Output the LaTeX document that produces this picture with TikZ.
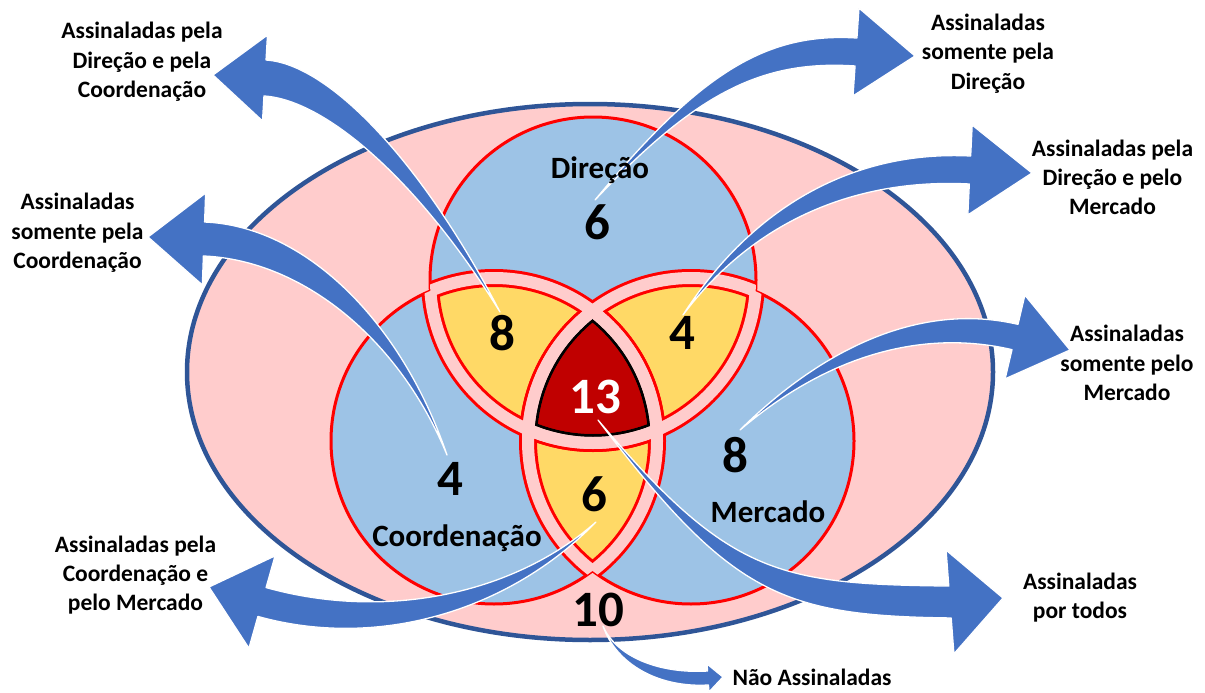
\documentclass[tikz,border=0pt]{standalone}
\usepackage{fontspec}
\setmainfont{Carlito}
\usepackage{tikz}
\usetikzlibrary{calc}
\definecolor{ellfill}{HTML}{FFCCCC}
\definecolor{ellline}{HTML}{2F5597}
\definecolor{vennfill}{HTML}{9DC3E6}
\definecolor{vennline}{HTML}{FF0000}
\definecolor{pairfill}{HTML}{FFD966}
\definecolor{allfill}{HTML}{C00000}
\definecolor{arrowblue}{HTML}{4472C4}
\tikzset{
  ell/.style={fill=ellfill, draw=ellline, line width=4.5pt},
  venn/.style={fill=vennfill, draw=vennline, line width=3pt},
  pair/.style={fill=pairfill},
  all/.style={fill=allfill},
  bandedge/.style={draw=vennline, line width=18pt},
  alledge/.style={draw=black, line width=18pt},
  band/.style={draw=ellfill, line width=12pt},
  num/.style={font=\fontsize{51}{60}\selectfont\bfseries, inner sep=0pt},
  setname/.style={font=\fontsize{31}{37}\selectfont\bfseries, inner sep=0pt},
  lab/.style={font=\fontsize{23.5}{29.3}\selectfont\bfseries, align=center, inner sep=0pt},
  blockarrow/.style={fill=arrowblue, draw=white, line width=1.3pt, line join=round},
}
\newcommand\bigarrow[7]{%
  \coordinate (ab) at (#4);
  \coordinate (ah) at (#5);
  \coordinate (abl) at ($(ab)!#6!90:(ah)$);
  \coordinate (abr) at ($(ab)!#6!-90:(ah)$);
  \coordinate (ahl) at ($(ab)!#7!90:(ah)$);
  \coordinate (ahr) at ($(ab)!#7!-90:(ah)$);
  \draw[blockarrow] (#1) .. controls ($(#2)+0.6*(abl)-0.6*(ab)$) and ($(#3)+(abl)-(ab)$) .. (abl)
    -- (ahl) -- (ah) -- (ahr) -- (abr)
    .. controls ($(#3)+(abr)-(ab)$) and ($(#2)+0.6*(abr)-0.6*(ab)$) .. cycle;
}

\begin{document}
\begin{tikzpicture}[x=1pt, y=-1pt]
  \useasboundingbox (0,0) rectangle (1205,693);
  \def\rad{163}
  \coordinate (D) at (593,280);
  \coordinate (C) at (494,441);
  \coordinate (M) at (691,441);
  \draw[ell] (590,372) ellipse [x radius=403, y radius=268];
  \foreach \s in {D,C,M}
    \draw[venn] (\s) circle [radius=\rad];
  \begin{scope}
    \clip (D) circle [radius=\rad];
    \fill[pair] (C) circle [radius=\rad];
    \fill[pair] (M) circle [radius=\rad];
  \end{scope}
  \begin{scope}
    \clip (C) circle [radius=\rad];
    \fill[pair] (M) circle [radius=\rad];
  \end{scope}
  \begin{scope}
    \clip (D) circle [radius=\rad];
    \clip (C) circle [radius=\rad];
    \fill[all] (M) circle [radius=\rad];
  \end{scope}
  \foreach \a/\b in {D/C,D/M,C/D,C/M,M/D,M/C}{
    \begin{scope}
      \clip (\b) circle [radius=\rad];
      \draw[bandedge] (\a) circle [radius=\rad];
    \end{scope}
  }
  \begin{scope}
    \clip (D) circle [radius=\rad];
    \clip (C) circle [radius=\rad];
    \clip (M) circle [radius=\rad];
    \foreach \s in {D,C,M}
      \draw[alledge] (\s) circle [radius=\rad];
  \end{scope}
  \foreach \a/\b in {D/C,D/M,C/D,C/M,M/D,M/C}{
    \begin{scope}
      \clip (\b) circle [radius=\rad];
      \draw[band] (\a) circle [radius=\rad];
    \end{scope}
  }

  \coordinate (tDC) at (500,312);  \coordinate (hDC) at (213,75);
  \coordinate (tD)  at (595,200);  \coordinate (hD)  at (915,56);
  \coordinate (tDM) at (683,315);  \coordinate (hDM) at (1032,173);
  \coordinate (tM)  at (740,430);  \coordinate (hM)  at (1070,350);
  \coordinate (tC)  at (447,455);  \coordinate (hC)  at (148,237);
  \coordinate (tCM) at (596,522);  \coordinate (hCM) at (209,587);
  \coordinate (tAll) at (598,420); \coordinate (hAll) at (1003,598);
  \coordinate (tNone) at (603,626); \coordinate (hNone) at (723,677);
  \bigarrow{tDC}{423,175}{329,82}{265,78}{hDC}{18pt}{43pt}
  \bigarrow{tD}{698,83}{764,46}{856,52}{hD}{14pt}{44pt}
  \bigarrow{tDM}{752,215}{853,164}{970,170}{hDM}{14pt}{45pt}
  \bigarrow{tM}{829,348}{925,316}{1015,337}{hM}{13pt}{43pt}
  \bigarrow{tC}{400,329}{303,243}{204,239}{hC}{17pt}{46pt}
  \bigarrow{tCM}{510,604}{380,635}{262,602}{hCM}{15pt}{48pt}
  \bigarrow{tAll}{730,585}{780,600}{950,602}{hAll}{16pt}{52pt}
  \bigarrow{tNone}{616,660}{658,681}{708,678}{hNone}{7pt}{14pt}

  \node[setname] (nameD) at (600,170) {Direção};
  \node[setname] (nameC) at (457,538) {Coordenação};
  \node[setname] (nameM) at (768,512) {Mercado};
  \node[num] (nD) at (597,222) {6};
  \node[num] (nDC) at (502,333) {8};
  \node[num] (nDM) at (682,333) {4};
  \node[num, text=white] (nAll) at (595,397) {13};
  \node[num] (nCM) at (594,494) {6};
  \node[num] (nC) at (450,479) {4};
  \node[num] (nM) at (735,455) {8};
  \node[num] (nNone) at (598,610) {10};

  \node[lab] (lDC) at (142,62) {Assinaladas pela\\Direção e pela\\Coordenação};
  \node[lab] (lC) at (77.5,233) {Assinaladas\\somente pela\\Coordenação};
  \node[lab] (lD) at (988,53.5) {Assinaladas\\somente pela\\Direção};
  \node[lab] (lDM) at (1112.5,177.5) {Assinaladas pela\\Direção e pelo\\Mercado};
  \node[lab] (lM) at (1127,363) {Assinaladas\\somente pelo\\Mercado};
  \node[lab] (lCM) at (135.5,575) {Assinaladas pela\\Coordenação e\\pelo Mercado};
  \node[lab] (lAll) at (1080,597.5) {Assinaladas\\por todos};
  \node[lab] (lNone) at (812,677) {Não Assinaladas};
\end{tikzpicture}
\end{document}
